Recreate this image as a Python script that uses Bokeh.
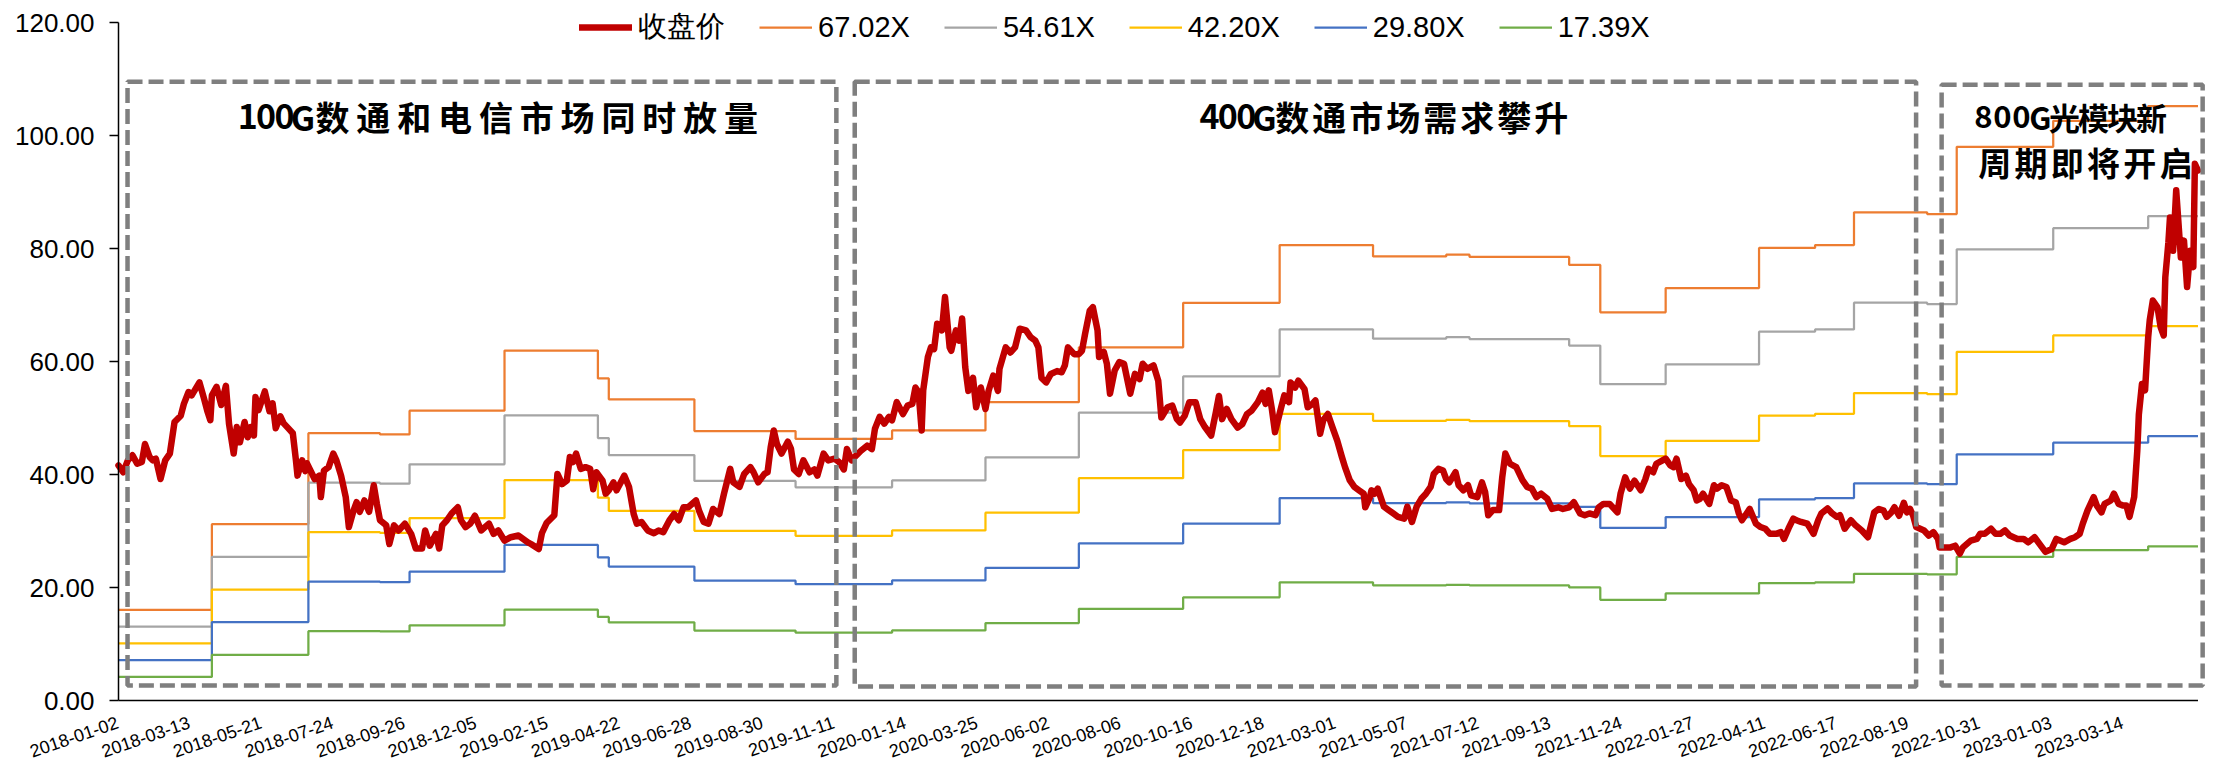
from bokeh.plotting import figure
from bokeh.models import ColumnDataSource, LabelSet, Legend, LegendItem, Range1d
from bokeh.core.properties import value
from bokeh.embed import file_html
from bokeh.resources import INLINE

# ---------------------------------------------------------------------------
# Data
# ---------------------------------------------------------------------------
# Category axis: one label every 46 trading sessions
tick_dates = [
    "2018-01-02", "2018-03-13", "2018-05-21", "2018-07-24", "2018-09-26",
    "2018-12-05", "2019-02-15", "2019-04-22", "2019-06-28", "2019-08-30",
    "2019-11-11", "2020-01-14", "2020-03-25", "2020-06-02", "2020-08-06",
    "2020-10-16", "2020-12-18", "2021-03-01", "2021-05-07", "2021-07-12",
    "2021-09-13", "2021-11-24", "2022-01-27", "2022-04-11", "2022-06-17",
    "2022-08-19", "2022-10-31", "2023-01-03", "2023-03-14",
]
TICK_EVERY = 46

# Value axis ticks
y_ticks = [0, 20, 40, 60, 80, 100, 120]

# Closing price (CNY) at trading-session index
close_session = [
    0, 3, 6, 9, 12, 15, 17, 20, 22, 24, 27, 30, 33, 36, 40, 42, 45, 47, 52, 55,
    57, 59, 60, 63, 66, 69, 71, 74, 76, 78, 81, 83, 85, 87, 88, 90, 94, 97, 99, 101,
    104, 106, 109, 112, 114, 115, 118, 120, 121, 126, 129, 130, 132, 135, 138, 140, 143, 146, 148, 151,
    153, 155, 158, 161, 164, 166, 168, 172, 174, 177, 180, 184, 188, 191, 195, 197, 200, 204, 206, 208,
    211, 214, 218, 220, 223, 226, 229, 233, 238, 241, 244, 248, 252, 257, 263, 265, 270, 272, 275, 280,
    282, 284, 285, 288, 290, 292, 294, 297, 300, 303, 305, 307, 311, 313, 315, 318, 320, 325, 328, 331,
    333, 336, 340, 344, 347, 350, 354, 357, 360, 363, 366, 371, 373, 376, 379, 382, 386, 389, 393, 395,
    399, 402, 406, 408, 411, 415, 417, 419, 421, 423, 426, 430, 432, 434, 437, 440, 444, 447, 449, 453,
    456, 460, 463, 466, 468, 471, 474, 477, 481, 484, 486, 489, 492, 495, 497, 500, 504, 507, 510, 512,
    514, 516, 517, 520, 522, 524, 526, 529, 531, 534, 535, 538, 540, 542, 544, 546, 549, 551, 554, 557,
    559, 562, 565, 566, 570, 573, 576, 579, 583, 586, 589, 591, 593, 596, 599, 603, 606, 608, 610, 614,
    617, 619, 621, 624, 626, 629, 630, 633, 635, 637, 640, 643, 646, 650, 653, 656, 658, 661, 665, 668,
    670, 674, 677, 680, 682, 685, 688, 692, 695, 698, 702, 705, 707, 709, 712, 715, 719, 722, 725, 728,
    732, 735, 737, 739, 741, 743, 747, 749, 752, 753, 756, 758, 762, 764, 767, 769, 772, 774, 777, 780,
    783, 786, 788, 791, 794, 797, 800, 801, 804, 805, 807, 809, 813, 816, 819, 822, 826, 828, 831, 834,
    837, 840, 843, 845, 848, 851, 853, 855, 859, 861, 864, 867, 869, 873, 876, 878, 880, 883, 887, 889,
    891, 894, 898, 902, 905, 908, 911, 914, 918, 921, 925, 928, 932, 935, 939, 942, 945, 949, 951, 954,
    958, 963, 965, 968, 971, 974, 978, 981, 983, 986, 988, 992, 994, 997, 999, 1001, 1004, 1007, 1009, 1012,
    1014, 1016, 1018, 1022, 1025, 1027, 1030, 1033, 1036, 1039, 1041, 1043, 1046, 1048, 1052, 1055, 1058, 1061, 1065, 1068,
    1070, 1073, 1076, 1078, 1081, 1085, 1089, 1092, 1094, 1098, 1101, 1104, 1106, 1109, 1113, 1116, 1120, 1124, 1128, 1131,
    1134, 1136, 1139, 1141, 1144, 1147, 1149, 1151, 1153, 1155, 1160, 1163, 1166, 1169, 1170, 1174, 1177, 1180, 1183, 1185,
    1190, 1194, 1196, 1199, 1203, 1206, 1209, 1212, 1215, 1220, 1224, 1227, 1231, 1235, 1238, 1242, 1245, 1250, 1254, 1257,
    1260, 1262, 1265, 1267, 1269, 1271, 1274, 1276, 1280, 1282, 1285, 1288, 1290, 1292, 1295, 1297, 1298, 1300, 1302, 1304,
    1305, 1307, 1310, 1312, 1314, 1315, 1317, 1318, 1320, 1322, 1325, 1327, 1329, 1331, 1333, 1334, 1336,
]
close_price = [
    41.6, 40.4, 42.5, 43.4, 41.9, 42.2, 45.4, 43.1, 42.5, 42.8, 39.2, 42.5, 43.7, 49.3, 50.4, 52.5, 54.6, 54.0, 56.3, 53.4,
    51.3, 49.6, 54.0, 55.5, 52.3, 55.7, 49.0, 43.7, 48.4, 45.7, 49.3, 46.6, 48.4, 46.9, 53.7, 51.4, 54.7, 51.2, 52.6, 48.2,
    50.3, 49.1, 48.2, 47.3, 42.5, 39.8, 42.5, 40.6, 42.0, 39.2, 39.8, 36.0, 40.7, 41.3, 43.7, 42.5, 39.8, 36.0, 30.7, 33.6,
    35.1, 33.4, 35.4, 33.4, 38.1, 34.8, 31.9, 31.0, 27.7, 31.0, 30.1, 31.3, 29.5, 26.9, 26.9, 30.1, 27.4, 29.5, 26.9, 31.0,
    31.9, 33.1, 34.2, 31.9, 30.7, 31.3, 32.7, 30.1, 31.3, 29.5, 30.1, 28.3, 28.9, 29.2, 28.0, 27.7, 26.8, 29.6, 31.4, 32.8,
    40.1, 38.9, 38.3, 38.9, 43.1, 42.2, 43.7, 41.0, 41.3, 41.0, 37.4, 40.4, 38.9, 36.6, 37.2, 38.6, 37.2, 39.8, 37.8, 33.0,
    31.3, 31.6, 30.1, 29.6, 30.1, 29.8, 31.9, 33.0, 31.9, 34.2, 34.2, 35.4, 33.6, 31.6, 31.3, 33.9, 33.0, 36.6, 41.0, 38.6,
    37.8, 40.1, 41.3, 40.4, 38.6, 40.1, 40.4, 44.8, 47.8, 45.4, 43.7, 45.8, 44.6, 40.9, 40.1, 42.5, 40.4, 40.9, 39.8, 43.7,
    42.5, 42.8, 42.2, 40.9, 44.5, 42.5, 43.4, 44.2, 45.1, 44.5, 48.1, 50.2, 49.0, 50.2, 49.6, 52.8, 50.7, 52.2, 52.5, 55.4,
    54.6, 47.8, 54.9, 60.8, 62.5, 62.2, 66.7, 65.5, 71.4, 62.5, 61.9, 65.5, 63.7, 67.6, 59.0, 54.8, 57.1, 51.9, 55.4, 51.6,
    54.8, 57.5, 54.8, 58.7, 62.5, 61.6, 62.5, 65.8, 65.5, 64.3, 63.7, 62.5, 57.1, 56.3, 57.8, 58.3, 58.1, 59.3, 62.5, 61.3,
    61.3, 61.9, 64.9, 69.0, 69.6, 65.5, 60.8, 61.7, 59.6, 54.3, 58.4, 59.9, 59.6, 54.3, 57.8, 56.9, 59.6, 58.7, 59.3, 56.6,
    50.1, 51.9, 52.2, 49.8, 49.2, 50.4, 52.8, 52.8, 49.8, 48.4, 46.9, 51.0, 53.9, 49.8, 51.6, 49.8, 48.3, 48.9, 50.7, 51.3,
    52.8, 54.5, 52.5, 54.9, 51.6, 47.5, 51.9, 54.0, 52.8, 56.3, 55.4, 56.6, 55.1, 51.9, 52.5, 53.1, 47.2, 49.6, 50.7, 48.3,
    46.0, 43.1, 41.3, 39.0, 37.8, 37.2, 36.6, 34.2, 36.0, 37.2, 36.6, 37.5, 34.3, 33.7, 33.1, 32.5, 32.2, 34.3, 31.6, 34.3,
    35.7, 36.6, 37.8, 40.1, 41.0, 40.7, 39.2, 38.6, 40.4, 38.1, 37.2, 38.1, 36.3, 36.0, 38.6, 36.9, 32.8, 33.7, 33.7, 39.5,
    43.7, 41.9, 41.3, 39.0, 37.8, 37.5, 36.0, 36.6, 35.7, 33.9, 34.2, 33.9, 34.2, 35.1, 33.1, 32.8, 33.1, 32.8, 34.2, 34.8,
    34.8, 33.3, 36.6, 39.5, 37.5, 38.9, 37.2, 39.2, 41.0, 40.4, 41.9, 42.5, 42.8, 41.6, 41.3, 42.8, 39.2, 39.8, 38.3, 37.2,
    35.4, 35.7, 36.6, 34.8, 38.1, 37.5, 38.1, 37.8, 35.4, 35.1, 33.1, 31.9, 33.1, 33.9, 31.3, 30.7, 30.4, 29.5, 29.5, 29.8,
    28.6, 30.5, 32.2, 31.9, 31.6, 31.3, 29.5, 31.9, 33.1, 34.0, 33.1, 32.5, 32.8, 30.4, 31.9, 31.0, 30.1, 28.9, 33.3, 33.9,
    33.6, 32.5, 33.3, 34.2, 32.7, 35.0, 33.3, 33.9, 32.7, 30.7, 30.1, 29.2, 29.8, 28.6, 27.1, 27.1, 27.1, 27.4, 26.0, 27.1,
    28.3, 28.6, 29.5, 29.5, 30.4, 29.5, 29.5, 30.1, 29.2, 28.6, 28.6, 28.0, 28.9, 27.4, 26.3, 26.8, 28.6, 28.0, 28.6, 28.9,
    29.5, 31.3, 33.6, 34.8, 36.0, 34.5, 33.3, 34.8, 35.4, 36.6, 34.8, 34.5, 34.5, 32.5, 36.0, 44.2, 50.6, 56.0, 54.9, 64.3,
    67.3, 70.8, 69.6, 66.1, 64.6, 74.9, 81.1, 85.5, 79.6, 90.3, 78.4, 81.4, 73.2, 79.6, 76.7, 95.0, 93.8,
]

# Trailing EPS (CNY) and the session from which each value applies
eps_start = [0, 60, 122, 168, 187, 248, 308, 315, 370, 435, 497, 557, 617, 684,
             746, 806, 853, 868, 932, 952, 994, 1054, 1090, 1115, 1162, 1181, 1243, 1304]
eps_value = [0.2395, 0.4655, 0.7058, 0.7028, 0.7654, 0.9243, 0.8505, 0.7953, 0.7117, 0.6908,
             0.7132, 0.7878, 0.9326, 1.0504, 1.2026, 1.1728, 1.1773, 1.1713, 1.1504, 1.0251,
             1.0892, 1.1952, 1.2026, 1.2892, 1.2847, 1.4622, 1.5309, 1.5697]

pe_multiples = [67.02, 54.61, 42.20, 29.80, 17.39]
band_colors = ["#ED7D31", "#A5A5A5", "#FFC000", "#4472C4", "#70AD47"]

# Phase boxes (session / price space) and their captions
phase_left = [5.8, 473.0, 1171.3]
phase_right = [461.2, 1154.9, 1339.0]
phase_top = [109.5, 109.5, 109.0]
phase_bottom = [2.65, 2.5, 2.65]

captions = [
    # text, first session, y, CJK pitch, latin pitch (sessions), size
    ("100G数通和电信市场同时放量", 77.1, 103.4, 26.24, 11.82, "34px"),
    ("400G数通市场需求攀升", 695.1, 103.3, 23.77, 11.76, "34px"),
    ("800G光模块新", 1192.1, 103.4, 18.63, 12.2, "31px"),
    ("周期即将开启", 1193.7, 95.3, 23.32, 12.2, "33px"),
]

# ---------------------------------------------------------------------------
# Figure: the data frame covers the whole canvas; both axes are drawn by
# hand so the rotated dates and the legend can sit outside the 0-120 band.
# ---------------------------------------------------------------------------
W, H = 2224, 760
AXIS_X = 118                      # canvas x of the value axis (session 0)
ZERO_Y = 60                       # canvas pixels from bottom to price 0
PX_PER_SESSION = 1.5565
PX_PER_UNIT = 5.65
TICK_LEN = 9
x_start = -AXIS_X / PX_PER_SESSION
y_start = -ZERO_Y / PX_PER_UNIT
first_session, last_session = close_session[0], close_session[-1]

p = figure(width=W, height=H, output_backend="svg", toolbar_location=None,
           x_range=Range1d(x_start, x_start + W / PX_PER_SESSION),
           y_range=Range1d(y_start, y_start + H / PX_PER_UNIT),
           min_border_left=0, min_border_right=0,
           min_border_top=0, min_border_bottom=0)
p.outline_line_color = None
p.grid.visible = False
p.xaxis.visible = False
p.yaxis.visible = False

# PE bands: EPS x multiple, held until the next report
band_renderers = []
step_x = eps_start + [last_session]
for mult, color in zip(pe_multiples, band_colors):
    levels = [e * mult for e in eps_value]
    r = p.step(step_x, levels + [levels[-1]], mode="after",
               line_color=color, line_width=2.25)
    band_renderers.append(r)

price_r = p.line(close_session, close_price, line_color="#C00000",
                 line_width=6.5, line_join="round", line_cap="round")

# Axis lines: value axis at session 0, category axis at price 0
p.segment(x0=[first_session, first_session], y0=[y_ticks[0], 0],
          x1=[first_session, last_session], y1=[y_ticks[-1], 0],
          line_color="black", line_width=1.5)
p.segment(x0=[first_session] * len(y_ticks), y0=y_ticks,
          x1=[first_session - TICK_LEN / PX_PER_SESSION] * len(y_ticks), y1=y_ticks,
          line_color="black", line_width=1.5)
p.text(x=[first_session] * len(y_ticks), y=y_ticks,
       text=[f"{t:.2f}" for t in y_ticks], x_offset=-(TICK_LEN + 15),
       text_font=value("Liberation Sans"), text_font_size="26px",
       text_color="black", text_align="right", text_baseline="middle")

# Dashed phase boxes
p.quad(left=phase_left, right=phase_right, top=phase_top, bottom=phase_bottom,
       fill_color=None, line_color="#7F7F7F", line_width=4.5, line_dash="15 6")

# Captions laid out glyph by glyph
for text, start, y, cjk_pitch, latin_pitch, size in captions:
    xs, cur = [], start
    for ch in text:
        w = latin_pitch if ord(ch) < 128 else cjk_pitch
        xs.append(cur + w / 2)
        cur += w
    p.text(x=xs, y=[y] * len(text), text=list(text),
           text_font=value("Noto Sans CJK SC"), text_font_style="bold",
           text_font_size=size, text_color="black",
           text_align="center", text_baseline="middle")

# Rotated date labels under the category axis
tick_src = ColumnDataSource(dict(
    x=[i * TICK_EVERY for i in range(len(tick_dates))],
    y=[0] * len(tick_dates),
    text=tick_dates,
))
p.add_layout(LabelSet(x="x", y="y", text="text", source=tick_src,
                      angle=0.33, text_align="right", text_baseline="top",
                      x_offset=-3, y_offset=-15,
                      text_font=value("Liberation Sans"),
                      text_font_size="18px", text_color="black"))

# Legend across the top
items = [LegendItem(label="收盘价", renderers=[price_r])]
for mult, r in zip(pe_multiples, band_renderers):
    items.append(LegendItem(label=f"{mult:.2f}X", renderers=[r]))
legend = Legend(items=items, orientation="horizontal", location=(579, 713),
                label_text_font="Liberation Sans", label_text_font_size="29px",
                label_text_color="black", glyph_width=53, glyph_height=30,
                label_height=30, label_standoff=6, spacing=34,
                padding=0, margin=0, border_line_color=None,
                background_fill_alpha=0)
p.add_layout(legend, "center")

open("out.html", "w").write(file_html(p, INLINE))
